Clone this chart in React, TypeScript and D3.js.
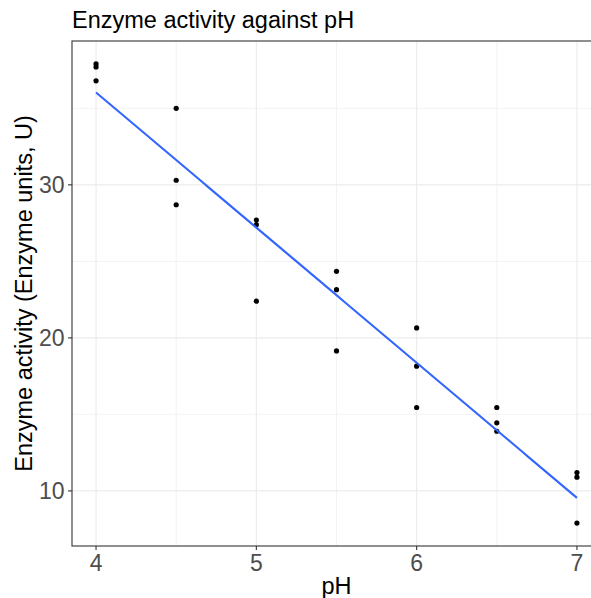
import React from 'react';
import * as d3 from 'd3';

const phLevels = [4, 4.5, 5, 5.5, 6, 6.5, 7];
const activity = [
  [37.9, 37.7, 36.8],
  [35.0, 30.3, 28.7],
  [27.7, 27.4, 22.4],
  [24.35, 23.15, 19.15],
  [20.65, 18.15, 15.45],
  [15.45, 14.45, 13.9],
  [11.2, 10.9, 7.9],
];
const xTicks = [4, 5, 6, 7];
const yTicks = [10, 20, 30];
const xMinor = [4.5, 5.5, 6.5];
const yMinor = [15, 25, 35];

const width = 591;
const height = 598;
const margin = { top: 41, left: 72, bottom: 52 };
const font = '"Liberation Sans", Arial, Helvetica, sans-serif';

export default function App() {
  const points = phLevels.flatMap((p, i) => activity[i].map((v) => ({ x: p, y: v })));

  const xExt = d3.extent(points, (d) => d.x) as [number, number];
  const yExt = d3.extent(points, (d) => d.y) as [number, number];
  const xPad = (xExt[1] - xExt[0]) * 0.05;
  const yPad = (yExt[1] - yExt[0]) * 0.05;

  // panel runs a little past the right edge of the picture
  const x = d3.scaleLinear()
    .domain([xExt[0] - xPad, xExt[1] + xPad])
    .range([margin.left, margin.left + 160.3 * (xExt[1] - xExt[0] + 2 * xPad)]);
  const y = d3.scaleLinear()
    .domain([yExt[0] - yPad, yExt[1] + yPad])
    .range([height - margin.bottom, margin.top]);

  // least squares fit
  const mx = d3.mean(points, (d) => d.x)!;
  const my = d3.mean(points, (d) => d.y)!;
  const sxy = d3.sum(points, (d) => (d.x - mx) * (d.y - my));
  const sxx = d3.sum(points, (d) => (d.x - mx) ** 2);
  const slope = sxy / sxx;
  const intercept = my - slope * mx;
  const fit = d3.range(xExt[0], xExt[1] + 0.001, 0.05).map((v) => [v, intercept + slope * v] as [number, number]);
  const line = d3.line<[number, number]>().x((d) => x(d[0])).y((d) => y(d[1]));

  const [x0, x1] = x.range();
  const [y0, y1] = y.range();

  return (
    <svg width={width} height={height} style={{ position: 'absolute', left: 0, top: 0, background: '#fff' }}>
      <text x={margin.left} y={28} fontFamily={font} fontSize={23.5} fill="#000">Enzyme activity against pH</text>

      {/* grid */}
      {xMinor.map((t) => (
        <line key={'xm' + t} x1={x(t)} x2={x(t)} y1={y1} y2={y0} stroke="#EBEBEB" strokeWidth={0.6} />
      ))}
      {yMinor.map((t) => (
        <line key={'ym' + t} x1={x0} x2={x1} y1={y(t)} y2={y(t)} stroke="#EBEBEB" strokeWidth={0.6} />
      ))}
      {xTicks.map((t) => (
        <line key={'xg' + t} x1={x(t)} x2={x(t)} y1={y1} y2={y0} stroke="#EBEBEB" strokeWidth={1.1} />
      ))}
      {yTicks.map((t) => (
        <line key={'yg' + t} x1={x0} x2={x1} y1={y(t)} y2={y(t)} stroke="#EBEBEB" strokeWidth={1.1} />
      ))}

      {points.map((d, i) => (
        <circle key={i} cx={x(d.x)} cy={y(d.y)} r={2.6} fill="#000" />
      ))}
      <path d={line(fit) || ''} fill="none" stroke="#3366FF" strokeWidth={2.1} />

      {/* panel border */}
      <rect x={x0} y={y1} width={x1 - x0} height={y0 - y1} fill="none" stroke="#333333" strokeWidth={1.1} />

      {/* axes ticks */}
      {xTicks.map((t) => (
        <g key={'xt' + t}>
          <line x1={x(t)} x2={x(t)} y1={y0} y2={y0 + 4} stroke="#333333" strokeWidth={1.1} />
          <text x={x(t)} y={y0 + 24.5} textAnchor="middle" fontFamily={font} fontSize={23} fill="#4D4D4D">{t}</text>
        </g>
      ))}
      {yTicks.map((t) => (
        <g key={'yt' + t}>
          <line x1={x0 - 4} x2={x0} y1={y(t)} y2={y(t)} stroke="#333333" strokeWidth={1.1} />
          <text x={x0 - 7.5} y={y(t)} dy="0.36em" textAnchor="end" fontFamily={font} fontSize={23} fill="#4D4D4D">{t}</text>
        </g>
      ))}

      <text x={(x0 + x1) / 2} y={height - 4} textAnchor="middle" fontFamily={font} fontSize={23.5} fill="#000">pH</text>
      <text transform={`translate(31.5,${(y0 + y1) / 2}) rotate(-90)`} textAnchor="middle" fontFamily={font} fontSize={23.5} fill="#000">
        Enzyme activity (Enzyme units, U)
      </text>
    </svg>
  );
}
